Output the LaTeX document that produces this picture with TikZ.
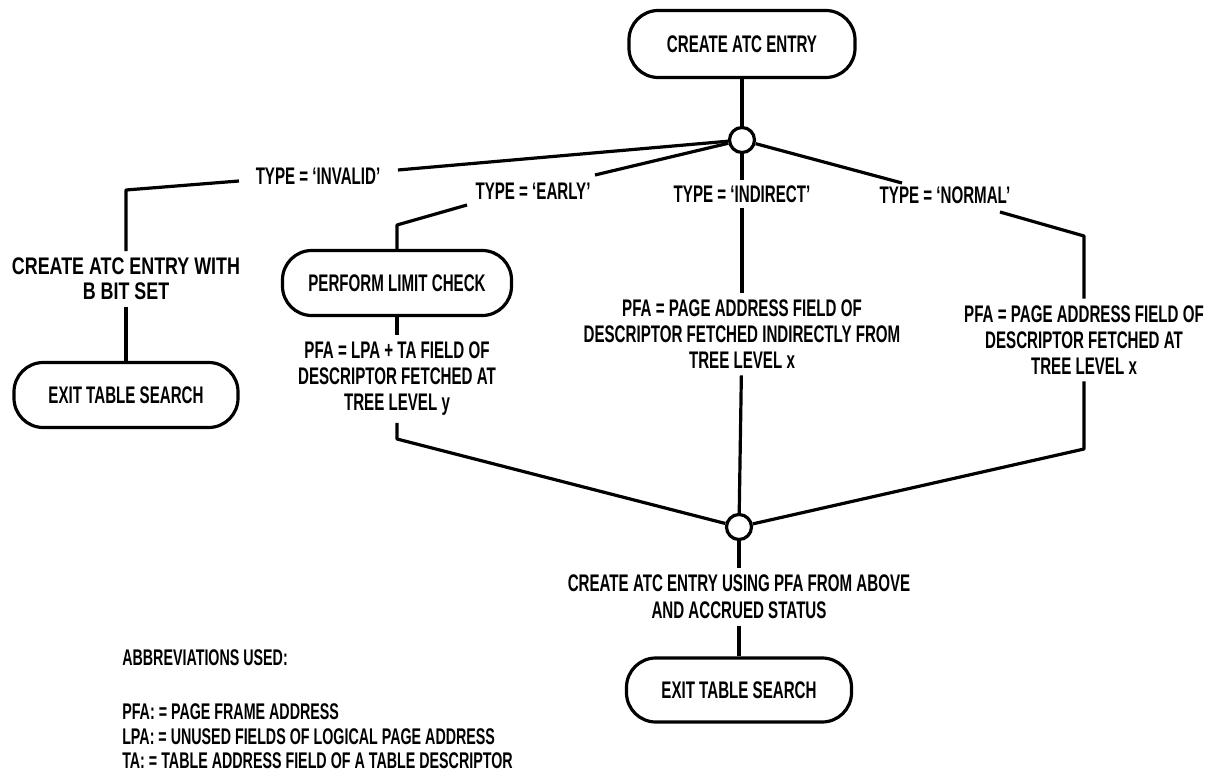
\documentclass[tikz,border=0pt]{standalone}
\usepackage{fontspec}
\newfontfamily\cf[FakeStretch=0.63]{Liberation Sans}
\newfontfamily\cfw[FakeStretch=0.745]{Liberation Sans}
\begin{document}
\begin{tikzpicture}[x=0.75pt,y=-0.75pt,
  every node/.style={font=\cf\bfseries\fontsize{18}{19.5}\selectfont},
  ln/.style={line width=2.4pt, line join=round},
  term/.style={draw, line width=2.4pt, rounded corners=22pt, minimum height=49pt, inner sep=0pt},
  junc/.style={draw, circle, line width=2.4pt, minimum size=18.75pt, inner sep=0pt, fill=white},
  lbl/.style={inner sep=4pt},
  txt/.style={align=center, inner xsep=2pt, inner ysep=5pt},
  abb/.style={anchor=base west, inner sep=0pt, font=\cf\bfseries\fontsize{17}{19}\selectfont}]
\useasboundingbox (0,0) rectangle (1211,773);

% nodes
\node[term, minimum width=169.5pt, minimum height=50.25pt] (top) at (742,44) {CREATE ATC ENTRY};
\node[junc] (c1) at (742,140) {};
\node[lbl] (linv) at (318,176) {TYPE = ‘INVALID’};
\node[lbl] (learly) at (533,191) {TYPE = ‘EARLY’};
\node[lbl] (lind) at (742,194) {TYPE = ‘INDIRECT’};
\node[lbl] (lnorm) at (945,195) {TYPE = ‘NORMAL’};
\node[txt, font=\cfw\bfseries\fontsize{18}{18.75}\selectfont] (cb) at (126,279) {CREATE ATC ENTRY WITH\\B BIT SET};
\node[term, minimum width=168pt, minimum height=48.75pt] (exit1) at (126,395) {EXIT TABLE SEARCH};
\node[term, minimum width=171.75pt, minimum height=48.75pt] (plc) at (397,283) {PERFORM LIMIT CHECK};
\node[txt] (pfa1) at (397,379) {PFA = LPA + TA FIELD OF\\DESCRIPTOR FETCHED AT\\TREE LEVEL y};
\node[txt] (pfa2) at (742,334) {PFA = PAGE ADDRESS FIELD OF\\DESCRIPTOR FETCHED INDIRECTLY FROM\\TREE LEVEL x};
\node[txt] (pfa3) at (1084,340) {PFA = PAGE ADDRESS FIELD OF\\DESCRIPTOR FETCHED AT\\TREE LEVEL x};
\node[junc] (c2) at (739,527) {};
\node[txt, font=\cf\bfseries\fontsize{18}{20}\selectfont] (ce) at (739,597) {CREATE ATC ENTRY USING PFA FROM ABOVE\\AND ACCRUED STATUS};
\node[term, minimum width=168.75pt, minimum height=48pt] (exit2) at (739,690) {EXIT TABLE SEARCH};

\node[abb] (ab0) at (122,665) {ABBREVIATIONS USED:};
\node[abb] (ab1) at (122,719) {PFA: = PAGE FRAME ADDRESS};
\node[abb] (ab2) at (122,744) {LPA: = UNUSED FIELDS OF LOGICAL PAGE ADDRESS};
\node[abb] (ab3) at (122,768) {TA: = TABLE ADDRESS FIELD OF A TABLE DESCRIPTOR};

% bend / end coordinates
\coordinate (invR) at (398,170);
\coordinate (invL) at (239,181);
\coordinate (k1) at (126,190);
\coordinate (earR) at (595,175);
\coordinate (earL) at (467,205);
\coordinate (k2) at (397,225);
\coordinate (k3) at (397,439);
\coordinate (norR) at (902,183);
\coordinate (norL) at (1000,212);
\coordinate (k4) at (1084,236);
\coordinate (k5) at (1084,449);

% connectors
\draw[ln] (top) -- (c1);
\draw[ln] (c1) -- (invR);
\draw[ln] (invL) -- (k1) -- (cb);
\draw[ln] (cb) -- (exit1);
\draw[ln] (c1) -- (earR);
\draw[ln] (earL) -- (k2) -- (plc);
\draw[ln] (plc) -- (pfa1);
\draw[ln] (pfa1) -- (k3) -- (c2);
\draw[ln] (c1) -- (lind);
\draw[ln] (lind) -- (pfa2);
\draw[ln] (pfa2) -- (c2);
\draw[ln] (c1) -- (norR);
\draw[ln] (norL) -- (k4) -- (pfa3);
\draw[ln] (pfa3) -- (k5) -- (c2);
\draw[ln] (c2) -- (ce);
\draw[ln] (ce) -- (exit2);
\end{tikzpicture}
\end{document}
